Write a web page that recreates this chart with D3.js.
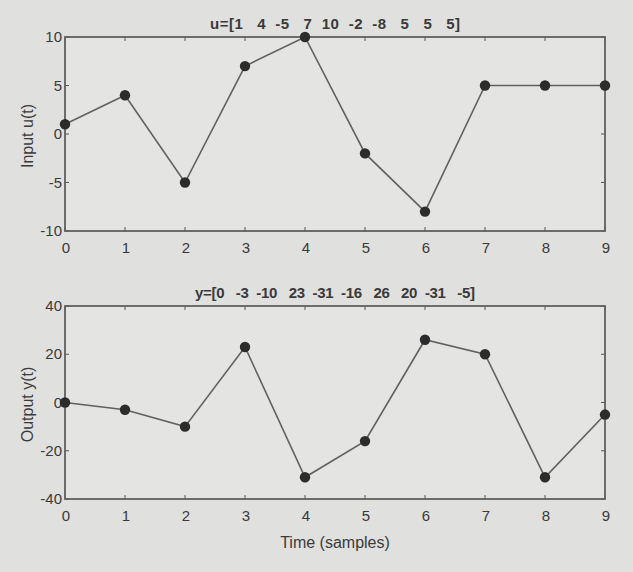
<!DOCTYPE html>
<html><head><meta charset="utf-8">
<script src="https://cdn.jsdelivr.net/npm/d3@7"></script>
<style>
html,body{margin:0;padding:0;background:#e0e0de;}
svg{display:block;}
text{font-family:"Liberation Sans",Arial,sans-serif;fill:#3a3a3a;}
</style></head><body>
<svg id="chart" width="633" height="572"></svg>
<script>
const samples = [0,1,2,3,4,5,6,7,8,9];
const inputU = [1,4,-5,7,10,-2,-8,5,5,5];
const outputY = [0,-3,-10,23,-31,-16,26,20,-31,-5];
const xTicks = [0,1,2,3,4,5,6,7,8,9];
const uTicks = [-10,-5,0,5,10];
const yTicks = [-40,-20,0,20,40];
const uTitle = "u=[1   4  -5   7  10  -2  -8   5   5   5]";
const yTitle = "y=[0   -3  -10   23  -31  -16   26   20  -31   -5]";

const svg = d3.select("#chart");
const left = 65, right = 605;
const x = d3.scaleLinear().domain([0,9]).range([left,right]);

function panel(top, bottom, data, domain, ticks, title, titleLen, ylabel) {
  const y = d3.scaleLinear().domain(domain).range([bottom, top]);
  const g = svg.append("g");
  g.append("rect").attr("x",left).attr("y",top).attr("width",right-left).attr("height",bottom-top)
    .attr("fill","#e4e4e2");
  const tl = 4;
  xTicks.forEach(t=>{
    g.append("line").attr("x1",x(t)).attr("x2",x(t)).attr("y1",bottom).attr("y2",bottom-tl).attr("stroke","#555");
    g.append("line").attr("x1",x(t)).attr("x2",x(t)).attr("y1",top).attr("y2",top+tl).attr("stroke","#555");
    g.append("text").attr("x",x(t)+1).attr("y",bottom+22).attr("text-anchor","middle").attr("font-size",15).text(t);
  });
  ticks.forEach(t=>{
    g.append("line").attr("x1",left).attr("x2",left+tl).attr("y1",y(t)).attr("y2",y(t)).attr("stroke","#555");
    g.append("line").attr("x1",right).attr("x2",right-tl).attr("y1",y(t)).attr("y2",y(t)).attr("stroke","#555");
    g.append("text").attr("x",left-3).attr("y",y(t)+5).attr("text-anchor","end").attr("font-size",15).text(t);
  });
  g.append("rect").attr("x",left).attr("y",top).attr("width",right-left).attr("height",bottom-top)
    .attr("fill","none").attr("stroke","#606060").attr("stroke-width",1.8);
  const line = d3.line().x((d,i)=>x(samples[i])).y(d=>y(d));
  g.append("path").datum(data).attr("d",line).attr("fill","none").attr("stroke","#606060").attr("stroke-width",1.6);
  g.selectAll("circle.m").data(data).enter().append("circle")
    .attr("cx",(d,i)=>x(samples[i])).attr("cy",d=>y(d)).attr("r",5.2).attr("fill","#2c2c2c");
  g.append("text").attr("x",(left+right)/2).attr("y",top-8).attr("text-anchor","middle")
    .attr("font-size",15).attr("font-weight","bold").attr("fill","#333")
    .attr("textLength",titleLen).attr("lengthAdjust","spacing")
    .style("white-space","pre").text(title);
  g.append("text").attr("transform",`translate(33,${(top+bottom)/2+2}) rotate(-90)`).attr("text-anchor","middle")
    .attr("font-size",16).text(ylabel);
}

panel(37, 231, inputU, [-10,10], uTicks, uTitle, 250, "Input u(t)");
panel(306, 499, outputY, [-40,40], yTicks, yTitle, 280, "Output y(t)");
svg.append("text").attr("x",(left+right)/2).attr("y",548).attr("text-anchor","middle").attr("font-size",16).text("Time (samples)");
</script>
</body></html>
